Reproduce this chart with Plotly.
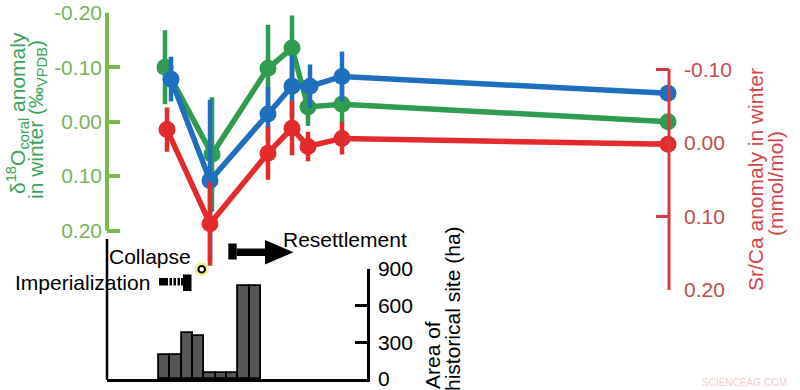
import plotly.graph_objects as go

# ---------------- data ----------------
# time position (arbitrary chronological scale)
x_green = [58, 105, 161, 185, 201, 235, 561]
x_blue = [64, 103, 161, 185, 203, 235, 561]
x_red = [60, 103, 161, 185, 201, 235, 561]

# δ18O coral anomaly in winter (‰VPDB) – left axis
d18o_green = [-0.100, 0.060, -0.098, -0.135, -0.027, -0.032, 0.000]
d18o_green_err = [0.068, 0.105, 0.080, 0.060, 0.035, 0.035, 0.010]

# second series (blue) – left axis
blue_vals = [-0.078, 0.108, -0.014, -0.065, -0.065, -0.083, -0.052]
blue_err = [0.041, 0.148, 0.050, 0.057, 0.040, 0.046, 0.010]

# Sr/Ca anomaly in winter (mmol/mol) – right axis
srca_red = [-0.018, 0.110, 0.014, -0.020, 0.005, -0.006, 0.002]
srca_red_err = [0.030, 0.057, 0.036, 0.037, 0.020, 0.022, 0.008]

# area of historical site (ha)
bar_period = [0, 1, 2, 3, 4, 5, 6, 7, 8]
bar_area = [200, 200, 380, 350, 50, 50, 50, 760, 760]

left_ticks = [-0.20, -0.10, 0.00, 0.10, 0.20]
left_ticktext = ["-0.20", "-0.10", "0.00", "0.10", "0.20"]
right_ticks = [-0.10, 0.00, 0.10, 0.20]
right_ticktext = ["-0.10", "0.00", "0.10", "0.20"]
bar_ticks = [0, 300, 600, 900]
bar_ticktext = ["0", "300", "600", "900"]

# ---------------- styling ----------------
W, H = 800, 390
FONT = "Liberation Sans, Arial, Helvetica, sans-serif"
FS = 21
GREEN = "#2f9c4f"
BLUE = "#1f6fbf"
RED = "#e32b2b"
AX_GREEN = "#7db84c"
LBL_GREEN = "#76b35a"
AX_RED = "#d9383a"
LBL_RED = "#c24c4e"


def X(px):
    return px / W


def Y(py):
    return 1 - py / H


fig = go.Figure()


def series(x, y, err, color, yaxis):
    fig.add_trace(go.Scatter(
        x=x, y=y, yaxis=yaxis, xaxis="x", mode="lines+markers",
        line=dict(color=color, width=5.5),
        marker=dict(color=color, size=17),
        error_y=dict(type="data", array=err, visible=True, color=color,
                     thickness=4.5, width=0),
        cliponaxis=False, showlegend=False, hoverinfo="skip"))


series(x_green, d18o_green, d18o_green_err, GREEN, "y")
series(x_blue, blue_vals, blue_err, BLUE, "y")
series(x_red, srca_red, srca_red_err, RED, "y2")

fig.add_trace(go.Bar(
    x=bar_period, y=bar_area, xaxis="x2", yaxis="y3", width=1,
    marker=dict(color="#555555", line=dict(color="black", width=1.8)),
    showlegend=False, hoverinfo="skip"))

main_dom_y = [Y(290), Y(12.7)]
fig.update_layout(
    width=W, height=H,
    margin=dict(l=0, r=0, t=0, b=0, pad=0, autoexpand=False),
    paper_bgcolor="white",
    plot_bgcolor="rgba(0,0,0,0)",
    font=dict(family=FONT, size=FS, color="black"),
    xaxis=dict(domain=[X(107), X(669)], range=[0, 562], visible=False,
               anchor="y", automargin=False),
    yaxis=dict(domain=main_dom_y, range=[0.309, -0.2], anchor="x",
               tickvals=left_ticks, ticktext=left_ticktext,
               ticks="inside", ticklen=13, tickwidth=3.5, tickcolor=AX_GREEN,
               tickfont=dict(color=LBL_GREEN, size=FS, family=FONT),
               showline=False, showgrid=False, zeroline=False,
               ticklabelstandoff=4, automargin=False,
               ticklabeloverflow="allow"),
    yaxis2=dict(overlaying="y", side="right", anchor="x",
                range=[0.2, -0.1769],
                tickvals=right_ticks, ticktext=right_ticktext,
                ticks="inside", ticklen=13, tickwidth=3, tickcolor=AX_RED,
                tickfont=dict(color=LBL_RED, size=FS, family=FONT),
                showline=False, showgrid=False, zeroline=False,
                ticklabelstandoff=14, automargin=False,
                ticklabeloverflow="allow"),
    xaxis2=dict(domain=[X(107), X(367)], range=[-5.09, 17.85], anchor="y3",
                showline=True, linecolor="black", linewidth=2.5,
                showticklabels=False, ticks="", showgrid=False,
                zeroline=False, automargin=False),
    yaxis3=dict(domain=[Y(379), Y(269)], range=[0, 900], anchor="x2",
                side="right", tickvals=bar_ticks, ticktext=bar_ticktext,
                ticks="inside", ticklen=12, tickwidth=2.5, tickcolor="black",
                tickfont=dict(color="black", size=FS, family=FONT),
                showline=True, linecolor="black", linewidth=2.5,
                showgrid=False, zeroline=False, ticklabelstandoff=4,
                automargin=False, ticklabeloverflow="allow"),
    bargap=0,
)

shapes = []
# left (green) axis line
shapes.append(dict(type="line", xref="paper", yref="y", x0=X(107), x1=X(107),
                   y0=-0.2, y1=0.2, line=dict(color=AX_GREEN, width=4)))
# right (red) axis line
shapes.append(dict(type="line", xref="paper", yref="y2", x0=X(669), x1=X(669),
                   y0=-0.1, y1=0.2, line=dict(color=AX_RED, width=3)))
# bar panel left line
shapes.append(dict(type="line", xref="paper", yref="paper", x0=X(107), x1=X(107),
                   y0=Y(239), y1=Y(380), line=dict(color="black", width=2.5)))


def rect(x0, x1, y0, y1, color="black"):
    shapes.append(dict(type="rect", xref="paper", yref="paper",
                       x0=X(x0), x1=X(x1), y0=Y(y1), y1=Y(y0),
                       fillcolor=color, line=dict(width=0)))


# Imperialization marker (dashed bar with end cap)
rect(159, 168, 278, 285.5)
rect(169.5, 172, 278, 285.5)
rect(173.5, 176, 278, 285.5)
rect(177.5, 180, 278, 285.5)
rect(181, 183, 278, 285.5)
rect(183, 191.5, 274.5, 291)

# Resettlement arrow
rect(228.3, 236.7, 243.5, 259.5)
rect(236.7, 266, 248.5, 256)
shapes.append(dict(type="path", xref="paper", yref="paper",
                   path=f"M {X(265)} {Y(240)} L {X(293.5)} {Y(252.2)} L {X(265)} {Y(264.5)} Z",
                   fillcolor="black", line=dict(width=0)))

# Collapse marker
shapes.append(dict(type="circle", xref="paper", yref="paper",
                   x0=X(201.7 - 7), x1=X(201.7 + 7), y0=Y(269.3 + 7), y1=Y(269.3 - 7),
                   fillcolor="#f1ee86", line=dict(width=0), opacity=0.9))
shapes.append(dict(type="circle", xref="paper", yref="paper",
                   x0=X(201.7 - 3.3), x1=X(201.7 + 3.3), y0=Y(269.3 + 3.3), y1=Y(269.3 - 3.3),
                   fillcolor="white", line=dict(color="black", width=2)))

fig.update_layout(shapes=shapes)

ann = []


def text(t, px, py, color="black", size=FS, angle=0, xanchor="center"):
    ann.append(dict(text=t, xref="paper", yref="paper", x=X(px), y=Y(py),
                    xanchor=xanchor, yanchor="middle", showarrow=False,
                    textangle=angle, font=dict(family=FONT, size=size, color=color)))


text("Collapse", 150, 256)
text("Imperialization", 82.5, 282)
text("Resettlement", 345, 239)

# left axis title (two lines)
text("δ<sup>18</sup>O<sub>coral</sub> anomaly", 17, 113, color="#3aa35c", angle=-90)
text("in winter (‰<sub>VPDB</sub>)", 37, 120, color="#3aa35c", angle=-90)

# right axis title
text("Sr/Ca anomaly in winter", 755, 180, color="#d2464a", angle=-90)
text("(mmol/mol)", 775, 184, color="#d2464a", angle=-90)

# bar axis title
text("Area of", 432, 355, angle=-90)
text("historical site (ha)", 452, 308, angle=-90)

# watermark
text("SCIENCEAG.COM", 744, 382, color="#f2cccc", size=10)

fig.update_layout(annotations=ann)

fig.write_html("out.html", config={"displayModeBar": False},
               post_script="document.body.style.margin='0';document.body.style.overflow='hidden';")
